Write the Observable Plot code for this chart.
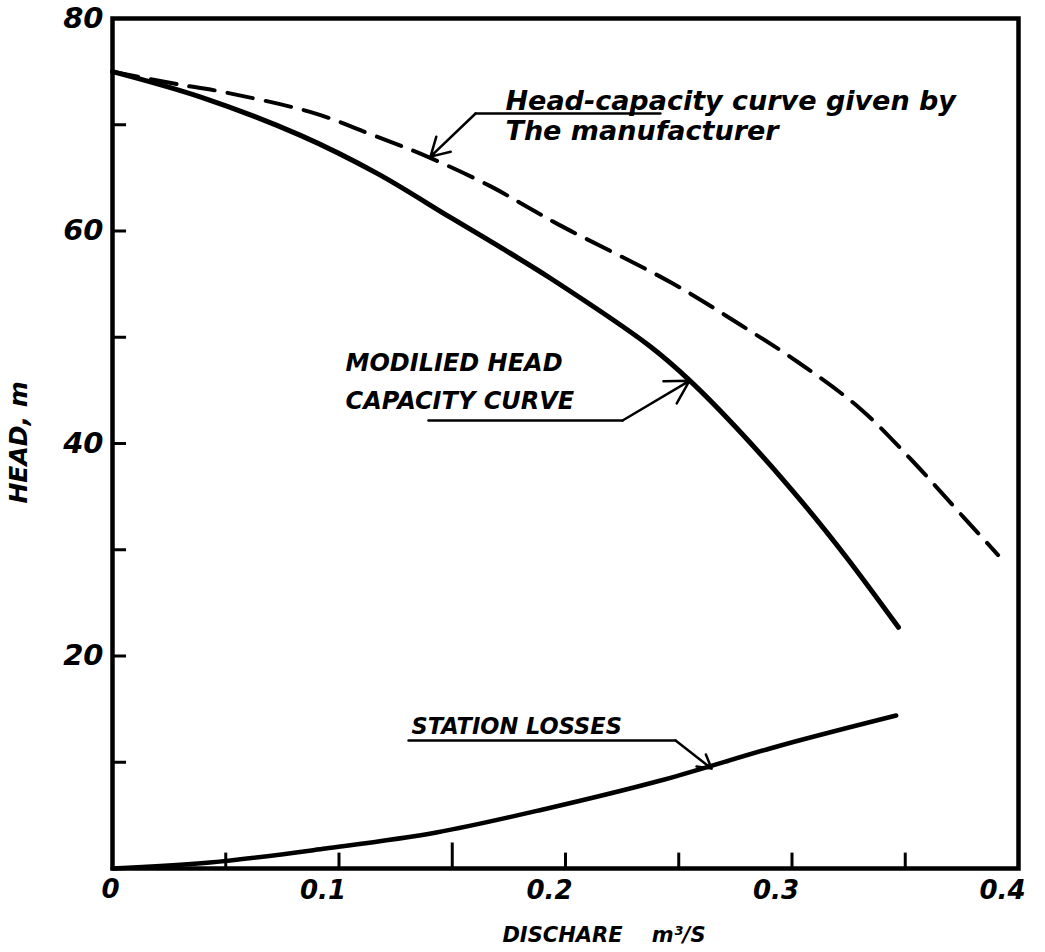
<!DOCTYPE html>
<html>
<head>
<meta charset="utf-8">
<script src="https://cdn.jsdelivr.net/npm/d3@7"></script>
<script src="https://cdn.jsdelivr.net/npm/@observablehq/plot@0.6"></script>
<style>
  html, body { margin: 0; padding: 0; background: #ffffff; }
  #chart { width: 1045px; height: 952px; }
</style>
</head>
<body>
<div id="chart"></div>
<script>
// ---- Data (discharge m^3/s, head m) ----
const manufacturerQ = [0, 0.029, 0.046, 0.089, 0.114, 0.139, 0.167, 0.182, 0.197, 0.247, 0.277, 0.303, 0.330, 0.353, 0.376, 0.391];
const manufacturerH = [75, 73.8, 73.2, 71.1, 69.1, 67.0, 64.2, 62.4, 60.6, 55.1, 51.2, 47.6, 43.3, 38.4, 33.0, 29.5];

const modifiedQ = [0, 0.039, 0.083, 0.117, 0.149, 0.171, 0.193, 0.237, 0.255, 0.278, 0.304, 0.324, 0.347];
const modifiedH = [75, 72.6, 69.0, 65.4, 61.3, 58.5, 55.6, 49.2, 45.9, 40.9, 34.6, 29.3, 22.7];

const lossesQ = [0, 0.043, 0.094, 0.143, 0.192, 0.242, 0.295, 0.346];
const lossesH = [0, 0.56, 1.88, 3.39, 5.65, 8.28, 11.58, 14.4];

// ---- Axes ----
const xTicks = [0.05, 0.1, 0.15, 0.2, 0.25, 0.3, 0.35];
const xLabelValues = [0.1, 0.2, 0.3, 0.4];
const xLabelTexts = ["0.1", "0.2", "0.3", "0.4"];
const zeroLabel = ["0"];
const yTicks = [10, 20, 30, 40, 50, 60, 70];
const yLabelValues = [20, 40, 60, 80];

const xTitle = "DISCHARE    m³/S";
const yTitle = "HEAD, m";

const noteManufacturer = "Head-capacity curve given by\nThe manufacturer";
const noteModified = "MODILIED HEAD\nCAPACITY CURVE";
const noteLosses = "STATION LOSSES";

// ---- Tables ----
const toRows = (qs, hs) => qs.map((q, i) => ({q, h: hs[i]}));
const manufacturer = toRows(manufacturerQ, manufacturerH);
const modified = toRows(modifiedQ, modifiedH);
const losses = toRows(lossesQ, lossesH);

const font = "DejaVu Sans";
const bi = {fontWeight: "bold", fontStyle: "italic", fill: "black"};

const chart = Plot.plot({
  width: 1045,
  height: 952,
  marginLeft: 112,
  marginRight: 27,
  marginTop: 18,
  marginBottom: 84,
  x: {domain: [0, 0.4], axis: null},
  y: {domain: [0, 80], axis: null},
  style: {background: "white", fontFamily: font},
  marks: [
    // ticks
    Plot.ruleX(xTicks, {x: d => d, y1: 0, y2: d => d === 0.15 ? 2.4 : 1.45, stroke: "black", strokeWidth: 3}),
    Plot.ruleY(yTicks, {y: d => d, x1: 0, x2: 0.0062, stroke: "black", strokeWidth: 3}),
    // frame
    Plot.frame({stroke: "black", strokeWidth: 4.5}),
    // curves
    Plot.line(manufacturer, {x: "q", y: "h", curve: "catmull-rom", stroke: "black", strokeWidth: 4, strokeDasharray: "26,13"}),
    Plot.line(modified, {x: "q", y: "h", curve: "catmull-rom", stroke: "black", strokeWidth: 5}),
    Plot.line(losses, {x: "q", y: "h", curve: "catmull-rom", stroke: "black", strokeWidth: 4.5}),
    // tick labels
    Plot.text(yLabelValues, {x: 0, y: d => d, text: d => String(d), textAnchor: "end", dx: -9, fontSize: 29, ...bi}),
    Plot.text(zeroLabel, {x: 0, y: 0, text: d => d, dy: 21, dx: -2, fontSize: 26, ...bi}),
    Plot.text(xLabelValues, {x: d => d, y: 0, text: (d, i) => xLabelTexts[i], dy: 22, dx: -16, fontSize: 26, ...bi}),
    // axis titles
    Plot.text([yTitle], {x: 0, y: 40.1, dx: -94, rotate: -90, fontSize: 25, ...bi}),
    Plot.text([xTitle], {x: 0.217, y: 0, dy: 67, fontSize: 21, ...bi}),
    // annotation: manufacturer
    Plot.text([noteManufacturer], {x: 0.1735, y: 70.9, textAnchor: "start", lineHeight: 1.1, fontSize: 27, ...bi}),
    Plot.line([{q: 0.2419, h: 71.06}, {q: 0.1603, h: 71.06}], {x: "q", y: "h", stroke: "black", strokeWidth: 2.5}),
    Plot.arrow([0], {x1: 0.1603, y1: 71.06, x2: 0.1404, y2: 67.0, stroke: "black", strokeWidth: 2.5, headLength: 16}),
    // annotation: modified
    Plot.text([noteModified], {x: 0.1029, y: 46.16, textAnchor: "start", lineHeight: 1.55, fontSize: 24, ...bi}),
    Plot.line([{q: 0.1395, h: 42.16}, {q: 0.2252, h: 42.16}], {x: "q", y: "h", stroke: "black", strokeWidth: 2.5}),
    Plot.arrow([0], {x1: 0.2252, y1: 42.16, x2: 0.2547, y2: 45.9, stroke: "black", strokeWidth: 2.5, headLength: 16}),
    // annotation: station losses
    Plot.text([noteLosses], {x: 0.132, y: 13.36, textAnchor: "start", fontSize: 22.5, ...bi}),
    Plot.line([{q: 0.1307, h: 12.05}, {q: 0.2486, h: 12.05}], {x: "q", y: "h", stroke: "black", strokeWidth: 2.5}),
    Plot.arrow([0], {x1: 0.2486, y1: 12.05, x2: 0.2645, y2: 9.4, stroke: "black", strokeWidth: 2.5, headLength: 16})
  ]
});

document.getElementById("chart").appendChild(chart);
</script>
</body>
</html>
